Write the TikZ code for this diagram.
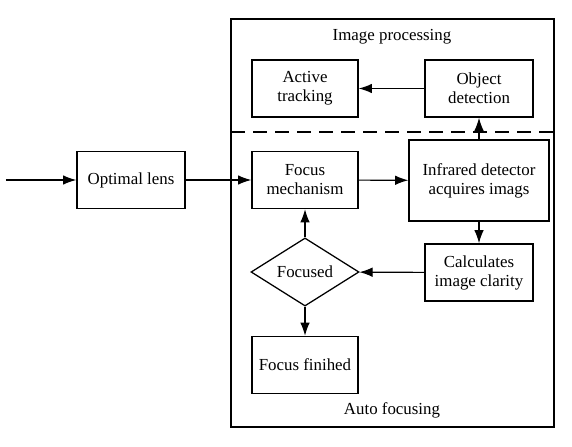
\documentclass[tikz,border=0pt]{standalone}
\usepackage{fontspec}
\setmainfont{Liberation Serif}
\usetikzlibrary{shapes.geometric,arrows.meta,positioning}

\begin{document}
\begin{tikzpicture}[
    font=\fontsize{12}{13.5}\selectfont,
    box/.style={rectangle, draw, line width=1.1pt, minimum width=2.65cm, minimum height=1.425cm, align=center, inner sep=2pt},
    decision/.style={diamond, draw, line width=0.9pt, minimum width=2.7cm, minimum height=1.45cm, inner sep=0pt, align=center},
    arrow/.style={-{Latex[length=3.3mm,width=2.4mm]}, line width=0.8pt}
]
    \useasboundingbox (0,0) rectangle (14.3,-11.15);

    % Riquadro esterno e separazione
    \draw[line width=0.8pt] (5.775,-0.475) rectangle (13.85,-10.675);
    \draw[line width=0.9pt, dash pattern=on 3.5mm off 2mm] (5.775,-3.3) -- (13.85,-3.3);
    \node (proclabel) at (9.8,-0.925) {Image processing};
    \node (autolabel) at (9.8,-10.25) {Auto focusing};

    % Image processing
    \node[box] (tracking) at (7.625,-2.2125) {Active\\tracking};
    \node[box, minimum width=2.7cm] (detection) at (11.975,-2.2125) {Object\\detection};

    % Auto focusing
    \coordinate (input) at (0.15,-4.5);
    \node[box, minimum width=2.7cm] (lens) at (3.275,-4.5) {Optimal lens};
    \node[box] (mechanism) at (7.625,-4.5) {Focus\\mechanism};
    \node[box, minimum width=3.5cm, minimum height=2.025cm] (detector) at (11.975,-4.5125) {Infrared detector\\acquires imags};
    \node[box, minimum width=2.7cm] (clarity) at (11.975,-6.8125) {Calculates\\image clarity};
    \node[decision] (focused) at (7.625,-6.8) {Focused};
    \node[box] (finished) at (7.625,-9.125) {Focus finihed};

    % Frecce
    \draw[arrow] (input) -- (lens);
    \draw[arrow] (lens) -- (mechanism);
    \draw[arrow] (mechanism) -- (detector);
    \draw[arrow] (detector) -- (detection);
    \draw[arrow] (detection) -- (tracking);
    \draw[arrow] (detector) -- (clarity);
    \draw[arrow] (clarity) -- (focused);
    \draw[arrow] (focused) -- (mechanism);
    \draw[arrow] (focused) -- (finished);
\end{tikzpicture}
\end{document}
